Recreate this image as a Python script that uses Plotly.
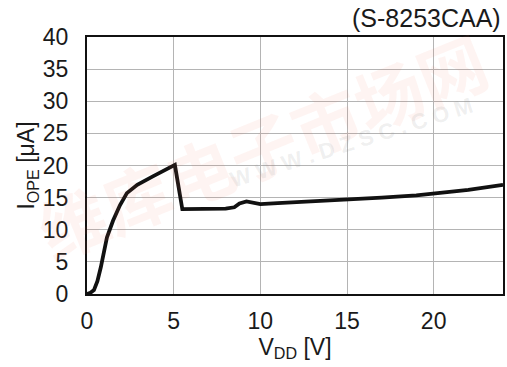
import plotly.graph_objects as go

# Supply voltage V_DD [V] and operating current I_OPE [uA]
vdd = [0, 0.2, 0.4, 0.6, 0.8, 1.0, 1.15, 1.5, 1.9, 2.3, 2.9, 3.8, 5.07,
       5.5, 6.5, 8.0, 8.5, 8.8, 9.2, 9.6, 10.0, 11, 13, 15, 17, 19, 20, 22, 24]
iope = [0, 0.2, 0.6, 2.0, 4.2, 6.7, 8.8, 11.4, 13.8, 15.7, 17.0, 18.3, 20.1,
        13.2, 13.2, 13.3, 13.5, 14.1, 14.4, 14.2, 14.0, 14.15, 14.4, 14.7,
        15.0, 15.35, 15.6, 16.2, 17.0]

x_ticks = [0, 5, 10, 15, 20]
y_ticks = [0, 5, 10, 15, 20, 25, 30, 35, 40]

FONT = "Liberation Sans, Arial, sans-serif"
TXT = "#1a1a1a"
FS = 23

fig = go.Figure()
fig.add_trace(go.Scatter(
    x=vdd, y=iope, mode="lines",
    line=dict(color="#111111", width=3.8),
    hoverinfo="skip",
))

fig.update_layout(
    width=507, height=367,
    margin=dict(l=87, r=2, t=37, b=73),
    paper_bgcolor="white", plot_bgcolor="white",
    showlegend=False,
    font=dict(family=FONT, size=FS, color=TXT),
    annotations=[
        dict(text="(S-8253CAA)", xref="paper", yref="paper", x=1.0, y=1.0,
             xanchor="right", yanchor="bottom", yshift=3, showarrow=False,
             font=dict(family=FONT, size=25, color=TXT)),
        dict(text="<b>维库电子市场网</b>", xref="paper", yref="paper", x=0.42, y=0.58,
             showarrow=False, textangle=-22,
             font=dict(family="Noto Sans CJK SC", size=68, color="rgba(240,110,90,0.08)")),
        dict(text="<b>W W W . D Z S C . C O M</b>", xref="paper", yref="paper",
             x=0.636, y=0.588, showarrow=False, textangle=-17.5,
             font=dict(family=FONT, size=22, color="rgba(140,140,140,0.14)")),
    ],
)

fig.update_xaxes(
    range=[0, 24], tickvals=x_ticks, ticks="", ticklabelstandoff=5,
    showgrid=True, gridcolor="#b4b4b4", gridwidth=1.3,
    showline=True, linecolor="#111111", linewidth=2, mirror=True,
    zeroline=False,
    title=dict(text="V<sub>DD</sub> [V]", standoff=1,
               font=dict(family=FONT, size=FS, color=TXT)),
    tickfont=dict(family=FONT, size=FS, color=TXT),
)
fig.update_yaxes(
    range=[0, 40], tickvals=y_ticks, ticks="", ticklabelstandoff=12,
    showgrid=True, gridcolor="#b4b4b4", gridwidth=1.3,
    showline=True, linecolor="#111111", linewidth=2, mirror=True,
    zeroline=False,
    title=dict(text="I<sub>OPE</sub> [μA]", standoff=2,
               font=dict(family=FONT, size=FS, color=TXT)),
    tickfont=dict(family=FONT, size=FS, color=TXT),
)

fig.write_html("out.html")
